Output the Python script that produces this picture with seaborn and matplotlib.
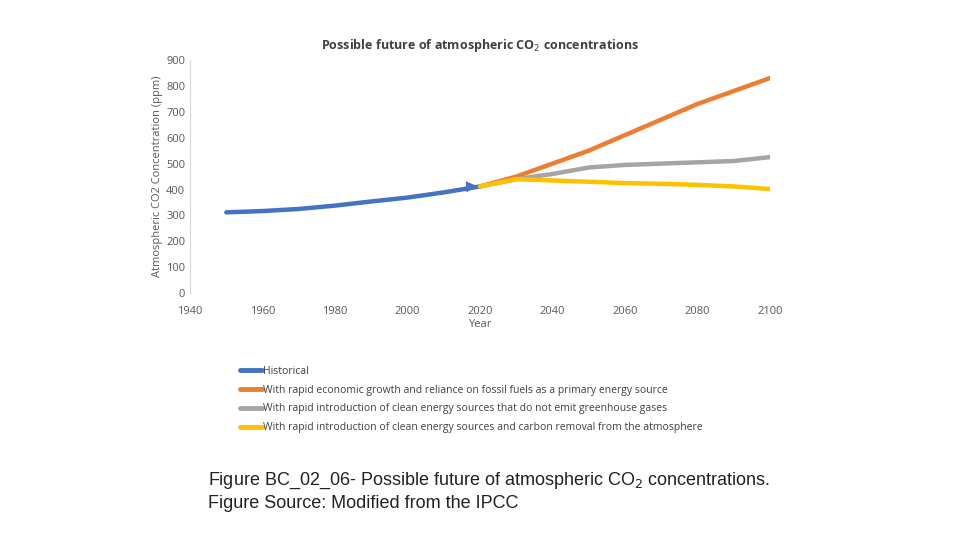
import matplotlib
matplotlib.use("Agg")
import matplotlib.pyplot as plt
import seaborn as sns
import pandas as pd

hist_years = [1950, 1960, 1970, 1980, 1990, 2000, 2010, 2020]
hist_ppm = [312, 317, 325, 338, 354, 369, 389, 412]
fut_years = [2020, 2030, 2040, 2050, 2060, 2070, 2080, 2090, 2100]
fossil_ppm = [412, 450, 500, 550, 610, 670, 730, 780, 830]
clean_ppm = [412, 440, 460, 485, 495, 500, 505, 510, 525]
removal_ppm = [412, 440, 435, 430, 425, 422, 418, 412, 402]

labels = ["Historical",
          "With rapid economic growth and reliance on fossil fuels as a primary energy source",
          "With rapid introduction of clean energy sources that do not emit greenhouse gases",
          "With rapid introduction of clean energy sources and carbon removal from the atmosphere"]
colors = ["#4472C4", "#ED7D31", "#A5A5A5", "#FFC000"]

rows = [(y, v, labels[0]) for y, v in zip(hist_years, hist_ppm)]
for lab, vals in zip(labels[1:], [fossil_ppm, clean_ppm, removal_ppm]):
    rows += [(y, v, lab) for y, v in zip(fut_years, vals)]
df = pd.DataFrame(rows, columns=["Year", "ppm", "Scenario"])

sns.set_style("white")
plt.rcParams['font.family'] = ['Open Sans', 'DejaVu Sans']

fig = plt.figure(figsize=(9.6, 5.4), dpi=100)
ax = fig.add_axes([0.198, 0.457, 0.604, 0.432])
sns.lineplot(data=df, x="Year", y="ppm", hue="Scenario", hue_order=labels,
             palette=colors, linewidth=3.2, ax=ax, legend=False)
ax.annotate("", xy=(2020, 414), xytext=(2010, 405),
            arrowprops=dict(arrowstyle="-|>", color=colors[0], lw=0, mutation_scale=20))

ax.set_xlim(1940, 2100)
ax.set_ylim(0, 900)
ax.set_xticks(range(1940, 2101, 20))
ax.set_yticks(range(0, 901, 100))
ax.tick_params(labelsize=8, colors="#595959", length=0)
ax.tick_params(axis="x", pad=9)
for s in ["top", "right", "bottom"]:
    ax.spines[s].set_visible(False)
ax.spines["left"].set_color("#D9D9D9")
ax.set_xlabel("Year", fontsize=8, color="#595959", labelpad=2)
ax.set_ylabel("Atmospheric CO2 Concentration (ppm)", fontsize=8, color="#595959", labelpad=2)
ax.set_title("Possible future of atmospheric CO$_2$ concentrations", fontsize=9,
             fontweight="bold", color="#404040", pad=8)

handles = [plt.Line2D([], [], color=c, lw=3.5) for c in colors]
fig.legend(handles, labels, loc="upper left", bbox_to_anchor=(0.24, 0.34), frameon=False,
           fontsize=7.5, handlelength=2.1, handletextpad=0.1, labelspacing=0.75, labelcolor="#404040")

fig.text(0.217, 0.06, "Figure BC_02_06- Possible future of atmospheric CO$_2$ concentrations.\n"
         "Figure Source: Modified from the IPCC", fontsize=13,
         family=["Liberation Sans", "DejaVu Sans"], color="#222222", linespacing=1.3)

fig.savefig("out.png", dpi=100)
